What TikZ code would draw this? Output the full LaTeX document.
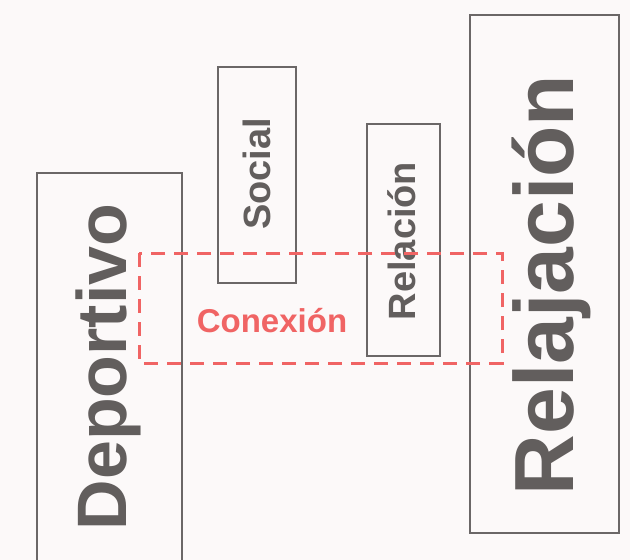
\documentclass[tikz,border=0pt]{standalone}
\usepackage{fontspec}
\setmainfont{Liberation Sans}
\usepackage{tikz}

\definecolor{paper}{HTML}{FCF9F9}
\definecolor{boxgray}{HTML}{6B6767}
\definecolor{wordgray}{HTML}{625E5D}
\definecolor{linkred}{HTML}{F06464}

\tikzset{
	box/.style={line width=2.4pt, color=boxgray},
	word/.style={rotate=90, anchor=base, inner sep=0pt, text=wordgray},
	linkbox/.style={line width=3pt, color=linkred, dash pattern=on 14pt off 9pt},
}
\newcommand{\wsize}[1]{\bfseries\fontsize{#1}{#1}\selectfont}

\begin{document}
\begin{tikzpicture}[x=1pt, y=-1pt]
		%%%%% START %%%%%
		
		\fill[paper] (0, 0) rectangle (630, 560);
		\useasboundingbox (0, 0) rectangle (630, 560);
		\clip (0, 0) rectangle (630, 560);
		
		% left column runs off the bottom edge
		\draw[box] (37, 173) rectangle (182, 580);
		\node[word, font=\wsize{70}] (deportivo) at (126, 367) {Deportivo};
		
		\draw[box] (218, 67) rectangle (296, 283);
		\node[word, font=\wsize{38}] (social) at (270, 174) {Social};
		
		\draw[box] (367, 124) rectangle (440, 356);
		\node[word, font=\wsize{38}] (relacion) at (415, 241) {Relación};
		
		\draw[box] (470, 15) rectangle (619, 533);
		\node[word, font=\wsize{84}] (relajacion) at (573, 285) {Relajación};
		
		% dashed band across the columns
		\draw[linkbox] (139, 253) rectangle (502, 363);
		\node[anchor=base, inner sep=0pt, text=linkred, font=\wsize{33}] (conexion) at (272, 332) {Conexión};
		
		%%%%% END %%%%%
\end{tikzpicture}
\end{document}
